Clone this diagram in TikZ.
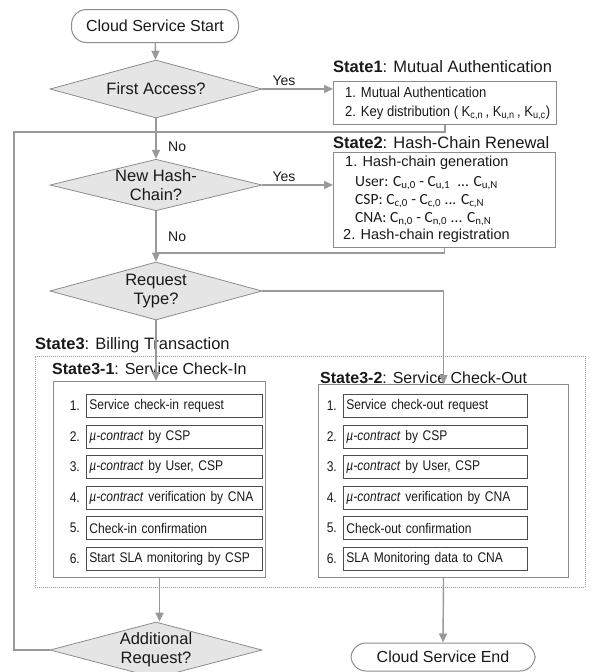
\documentclass[tikz,border=0pt]{standalone}
\usepackage{fontspec}
\setmainfont{Liberation Sans}
\newfontfamily\narrowfont{Liberation Sans}[FakeStretch=0.9]
\newfontfamily\itemfont{Liberation Sans}[FakeStretch=0.86]
\newfontfamily\chainfont{Carlito}
\usetikzlibrary{shapes.geometric,arrows.meta,calc}
\definecolor{wire}{gray}{0.6}
\definecolor{frame}{gray}{0.55}
\definecolor{shade}{gray}{0.9}
\definecolor{ink}{gray}{0.1}
\definecolor{itemline}{gray}{0.3}
\begin{document}
\begin{tikzpicture}[x=1pt,y=-1pt,
  every node/.style={text=ink},
  font=\fontsize{14}{16}\selectfont,
  terminal/.style={draw=frame, line width=1pt, rounded corners=15pt,
    minimum width=167pt, minimum height=33pt, inner sep=0pt,
    font=\fontsize{16}{18}\selectfont},
  decision/.style={diamond, draw=frame, fill=shade, line width=0.8pt,
    minimum width=212pt, minimum height=58pt, inner sep=0pt, aspect=4,
    align=center, font=\fontsize{16.5}{19}\selectfont},
  panel/.style={draw=frame, line width=1pt, anchor=north west, inner sep=0pt},
  flow/.style={draw=wire, line width=1.4pt, -{Triangle[width=8pt,length=9pt]}},
  wireline/.style={draw=wire, line width=1.4pt},
  statelabel/.style={anchor=west, inner sep=0pt, font=\fontsize{16.5}{18}\selectfont},
  substatelabel/.style={anchor=west, inner sep=0pt, font=\fontsize{16}{18}\selectfont},
  boxtext/.style={anchor=west, inner sep=0pt, font=\fontsize{14.5}{16}\selectfont},
  keytext/.style={anchor=west, inner sep=0pt, font=\narrowfont\fontsize{14.5}{16}\selectfont},
  chaintext/.style={anchor=west, inner sep=0pt, font=\chainfont\fontsize{15.5}{17}\selectfont},
  itembox/.style={draw=itemline, line width=0.9pt, anchor=west, inner xsep=3pt,
    inner ysep=2pt, minimum height=23pt, align=left,
    font=\itemfont\fontsize{14}{16}\selectfont},
  itemnum/.style={anchor=east, inner sep=0pt, font=\itemfont\fontsize{14}{16}\selectfont},
  branch/.style={inner sep=0pt, font=\fontsize{14}{16}\selectfont}
]
\useasboundingbox (0,0) rectangle (593,672);

% --- main decision column ---
\node[terminal] (start) at (155,26) {Cloud Service Start};
\node[decision] (d1) at (156,89) {First Access?};
\node[decision, minimum height=50pt] (d2) at (156,185) {New Hash-\\Chain?};
\node[decision] (d3) at (156,291) {Request\\Type?};
\node[decision, minimum height=56pt] (d4) at (156,650) {Additional\\Request?};
\node[terminal, minimum width=184pt, minimum height=28pt] (finish) at (443,657) {Cloud Service End};

% --- State 1 ---
\node[statelabel] (s1lab) at (333,67) {\textbf{State1}: Mutual Authentication};
\node[panel, minimum width=223pt, minimum height=43pt] (s1) at (333,81) {};
\node[keytext] (s1a) at (345,92) {1. Mutual Authentication};
\node[keytext] (s1b) at (345,113) {2. Key distribution ( K\textsubscript{c,n}\,, K\textsubscript{u,n}\,, K\textsubscript{u,c})};

% --- State 2 ---
\node[statelabel] (s2lab) at (333,143) {\textbf{State2}: Hash-Chain Renewal};
\node[panel, minimum width=222pt, minimum height=95pt] (s2) at (333,152) {};
\node[boxtext] (s2a) at (345,163) {1. Hash-chain generation};
\node[chaintext] (s2u) at (355,183) {User: C\textsubscript{u,0} - C\textsubscript{u,1} \ ... C\textsubscript{u,N}};
\node[chaintext] (s2c) at (355,201) {CSP: C\textsubscript{c,0} - C\textsubscript{c,0} ... C\textsubscript{c,N}};
\node[chaintext] (s2n) at (355,219) {CNA: C\textsubscript{n,0} - C\textsubscript{n,0} ... C\textsubscript{n,N}};
\node[boxtext] (s2b) at (343,236) {2. Hash-chain registration};

% --- State 3 ---
\node[statelabel] (s3lab) at (35,345) {\textbf{State3}: Billing Transaction};
\node[panel, draw=wire, densely dotted, line width=0.9pt, minimum width=550pt, minimum height=231pt] (s3) at (35,356) {};
\node[substatelabel] (s31lab) at (52,369) {\textbf{State3-1}: Service Check-In};
\node[substatelabel] (s32lab) at (320,378) {\textbf{State3-2}: Service Check-Out};
\node[panel, minimum width=212pt, minimum height=196pt] (in1) at (53,381) {};
\node[panel, minimum width=250pt, minimum height=193pt] (in2) at (318,384) {};

\foreach \k/\txt in {1/{Service check-in request},
                     2/{\textit{µ-contract} by CSP},
                     3/{\textit{µ-contract} by User, CSP},
                     4/{\textit{µ-contract} verification by CNA},
                     5/{Check-in confirmation},
                     6/{Start SLA monitoring by CSP}} {
  \node[itembox, text width=170pt] (l\k) at (86,{406+30.5*(\k-1)}) {\txt};
  \node[itemnum] (ln\k) at ($(l\k.west)+(-6,0)$) {\k.};
}
\foreach \k/\txt in {1/{Service check-out request},
                     2/{\textit{µ-contract} by CSP},
                     3/{\textit{µ-contract} by User, CSP},
                     4/{\textit{µ-contract} verification by CNA},
                     5/{Check-out confirmation},
                     6/{SLA Monitoring data to CNA}} {
  \node[itembox, text width=178pt] (r\k) at (343,{406+30.5*(\k-1)}) {\txt};
  \node[itemnum] (rn\k) at ($(r\k.west)+(-6,0)$) {\k.};
}

% --- connectors ---
\coordinate (j1) at (156,132);
\coordinate (j2) at (156,253);
\coordinate (loopc) at (14,132);

\draw[flow] (start) -- (d1);
\draw[flow] (d1.east) -- (d1.east -| s1.west);
\node[branch, anchor=south] (yes1) at (284,86) {Yes};
\draw[flow] (d1.south) -- (d2.north);
\node[branch, anchor=west] (no1) at (168,147) {No};
\draw[wireline] (s1.south) |- (j1);
\draw[wireline] (d4.west) -| (loopc) -- (j1);

\draw[flow] (d2.east) -- (d2.east -| s2.west);
\node[branch, anchor=south] (yes2) at (284,182) {Yes};
\draw[flow] (d2.south) -- (d3.north);
\node[branch, anchor=west] (no2) at (168,237) {No};
\draw[wireline] (s2.south) |- (j2);

\draw[flow] (d3.south) -- (d3.south |- in1.north);
\draw[flow] (d3.east) -| (in2.north);
\draw[flow] (in1.south) -- (in1.south |- d4.north);
\draw[flow] (in2.south) -- (finish.north);
\end{tikzpicture}
\end{document}
